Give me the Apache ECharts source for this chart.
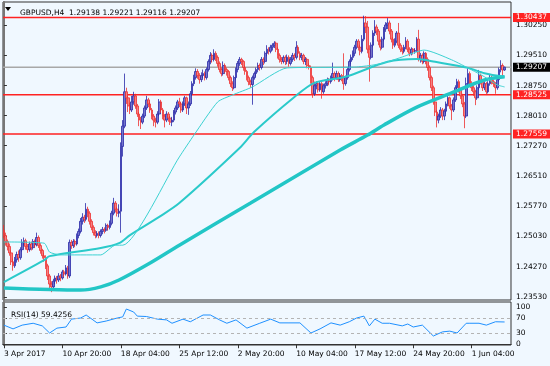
<!DOCTYPE html>
<html>
<head>
<meta charset="utf-8">
<script src="https://cdn.jsdelivr.net/npm/echarts@6/dist/echarts.min.js"></script>
<style>
html,body{margin:0;padding:0;background:#f0f8ff;}
#c{width:550px;height:366px;}
</style>
</head>
<body>
<div id="c"></div>
<script>
// ---- data ----
const symbolTitle = 'GBPUSD,H4  1.29138 1.29221 1.29116 1.29207';
const rsiTitle = 'RSI(14) 59.4256';
const tickBars = [0, 32, 64, 96, 128, 160, 192, 224, 256];
const tickLabels = ['3 Apr 2017', '10 Apr 20:00', '18 Apr 04:00', '25 Apr 12:00', '2 May 20:00', '10 May 04:00', '17 May 12:00', '24 May 20:00', '1 Jun 04:00'];
const priceTicks = [1.23530, 1.24270, 1.25030, 1.25770, 1.26510, 1.27270, 1.28010, 1.28750, 1.29510, 1.30250];
const rsiTicks = [0, 30, 70, 100];
const rsiLevels = [30, 70];
const levels = [1.30437, 1.28525, 1.27559];
const lastPrice = 1.29207;

// [open, close, low, high] per H4 bar
const ohlc = [
[1.2518,1.2505,1.2498,1.2531],[1.2505,1.2490,1.2480,1.2512],[1.2490,1.2478,1.2468,1.2495],[1.2478,1.2462,1.2455,1.2485],
[1.2462,1.2440,1.2432,1.2468],[1.2440,1.2430,1.2418,1.2448],[1.2430,1.2445,1.2425,1.2452],[1.2445,1.2458,1.2438,1.2465],
[1.2458,1.2450,1.2440,1.2468],[1.2450,1.2470,1.2445,1.2476],[1.2470,1.2488,1.2465,1.2496],[1.2488,1.2492,1.2480,1.2500],
[1.2492,1.2478,1.2470,1.2497],[1.2478,1.2470,1.2462,1.2484],[1.2470,1.2484,1.2465,1.2490],[1.2484,1.2475,1.2468,1.2490],
[1.2475,1.2490,1.2470,1.2496],[1.2490,1.2482,1.2475,1.2495],[1.2482,1.2500,1.2478,1.2512],[1.2500,1.2480,1.2474,1.2505],
[1.2480,1.2468,1.2460,1.2486],[1.2468,1.2455,1.2448,1.2472],[1.2455,1.2450,1.2440,1.2462],[1.2450,1.2430,1.2422,1.2456],
[1.2430,1.2405,1.2395,1.2435],[1.2405,1.2385,1.2370,1.2410],[1.2385,1.2378,1.2365,1.2392],[1.2378,1.2392,1.2370,1.2398],
[1.2392,1.2400,1.2385,1.2406],[1.2400,1.2395,1.2386,1.2405],[1.2395,1.2405,1.2390,1.2412],[1.2405,1.2400,1.2392,1.2410],
[1.2400,1.2415,1.2396,1.2420],[1.2415,1.2410,1.2402,1.2420],[1.2410,1.2425,1.2406,1.2432],[1.2425,1.2405,1.2398,1.2430],
[1.2405,1.2488,1.2400,1.2495],[1.2488,1.2480,1.2472,1.2494],[1.2480,1.2490,1.2474,1.2496],[1.2490,1.2484,1.2476,1.2495],
[1.2484,1.2505,1.2480,1.2510],[1.2505,1.2515,1.2498,1.2522],[1.2515,1.2540,1.2510,1.2548],[1.2540,1.2550,1.2532,1.2560],
[1.2550,1.2545,1.2536,1.2556],[1.2545,1.2570,1.2540,1.2585],[1.2570,1.2560,1.2550,1.2576],[1.2560,1.2540,1.2532,1.2565],
[1.2540,1.2525,1.2518,1.2545],[1.2525,1.2512,1.2505,1.2530],[1.2512,1.2505,1.2498,1.2518],[1.2505,1.2510,1.2500,1.2516],
[1.2510,1.2505,1.2498,1.2515],[1.2505,1.2515,1.2500,1.2520],[1.2515,1.2520,1.2508,1.2526],[1.2520,1.2518,1.2510,1.2525],
[1.2518,1.2530,1.2514,1.2535],[1.2530,1.2525,1.2518,1.2534],[1.2525,1.2535,1.2520,1.2542],[1.2535,1.2560,1.2530,1.2566],
[1.2560,1.2585,1.2555,1.2598],[1.2585,1.2570,1.2562,1.2590],[1.2570,1.2560,1.2552,1.2575],[1.2560,1.2565,1.2550,1.2582],
[1.2565,1.2725,1.2512,1.2735],[1.2725,1.2775,1.2700,1.2790],[1.2775,1.2860,1.2770,1.2905],[1.2860,1.2845,1.2830,1.2870],
[1.2845,1.2825,1.2810,1.2850],[1.2825,1.2815,1.2805,1.2832],[1.2815,1.2835,1.2810,1.2850],[1.2835,1.2850,1.2828,1.2860],
[1.2850,1.2825,1.2818,1.2855],[1.2825,1.2805,1.2798,1.2830],[1.2805,1.2790,1.2775,1.2810],[1.2790,1.2785,1.2768,1.2798],
[1.2785,1.2800,1.2780,1.2806],[1.2800,1.2820,1.2795,1.2826],[1.2820,1.2840,1.2815,1.2850],[1.2840,1.2830,1.2822,1.2845],
[1.2830,1.2815,1.2808,1.2836],[1.2815,1.2800,1.2792,1.2820],[1.2800,1.2790,1.2775,1.2805],[1.2790,1.2785,1.2772,1.2796],
[1.2785,1.2805,1.2780,1.2812],[1.2805,1.2835,1.2800,1.2842],[1.2835,1.2815,1.2808,1.2840],[1.2815,1.2800,1.2792,1.2820],
[1.2800,1.2790,1.2772,1.2805],[1.2790,1.2805,1.2785,1.2812],[1.2805,1.2795,1.2786,1.2810],[1.2795,1.2785,1.2778,1.2800],
[1.2785,1.2790,1.2775,1.2798],[1.2790,1.2810,1.2785,1.2815],[1.2810,1.2820,1.2804,1.2826],[1.2820,1.2835,1.2815,1.2840],
[1.2835,1.2830,1.2822,1.2845],[1.2830,1.2815,1.2808,1.2834],[1.2815,1.2830,1.2810,1.2836],[1.2830,1.2845,1.2825,1.2850],
[1.2845,1.2820,1.2805,1.2848],[1.2820,1.2830,1.2803,1.2836],[1.2830,1.2855,1.2825,1.2862],[1.2855,1.2880,1.2850,1.2886],
[1.2880,1.2895,1.2874,1.2902],[1.2895,1.2910,1.2890,1.2918],[1.2910,1.2900,1.2892,1.2916],[1.2900,1.2890,1.2880,1.2906],
[1.2890,1.2900,1.2884,1.2908],[1.2900,1.2905,1.2894,1.2915],[1.2905,1.2895,1.2888,1.2910],[1.2895,1.2915,1.2890,1.2920],
[1.2915,1.2935,1.2910,1.2940],[1.2935,1.2950,1.2928,1.2958],[1.2950,1.2940,1.2932,1.2955],[1.2940,1.2955,1.2935,1.2965],
[1.2955,1.2945,1.2936,1.2960],[1.2945,1.2930,1.2922,1.2950],[1.2930,1.2915,1.2908,1.2935],[1.2915,1.2905,1.2898,1.2920],
[1.2905,1.2925,1.2900,1.2935],[1.2925,1.2915,1.2906,1.2930],[1.2915,1.2910,1.2900,1.2920],[1.2910,1.2895,1.2888,1.2914],
[1.2895,1.2880,1.2872,1.2900],[1.2880,1.2870,1.2862,1.2886],[1.2870,1.2895,1.2866,1.2900],[1.2895,1.2915,1.2890,1.2920],
[1.2915,1.2930,1.2908,1.2936],[1.2930,1.2940,1.2924,1.2946],[1.2940,1.2935,1.2926,1.2944],[1.2935,1.2920,1.2912,1.2938],
[1.2920,1.2910,1.2902,1.2925],[1.2910,1.2895,1.2888,1.2914],[1.2895,1.2885,1.2876,1.2900],[1.2885,1.2878,1.2870,1.2890],
[1.2878,1.2895,1.2828,1.2900],[1.2895,1.2905,1.2890,1.2910],[1.2905,1.2915,1.2898,1.2920],[1.2915,1.2925,1.2908,1.2932],
[1.2925,1.2920,1.2912,1.2930],[1.2920,1.2940,1.2915,1.2946],[1.2940,1.2935,1.2926,1.2945],[1.2935,1.2955,1.2930,1.2960],
[1.2955,1.2965,1.2948,1.2975],[1.2965,1.2960,1.2952,1.2970],[1.2960,1.2970,1.2955,1.2976],[1.2970,1.2975,1.2962,1.2980],
[1.2975,1.2980,1.2968,1.2985],[1.2980,1.2965,1.2958,1.2984],[1.2965,1.2950,1.2942,1.2970],[1.2950,1.2940,1.2932,1.2955],
[1.2940,1.2935,1.2928,1.2946],[1.2935,1.2945,1.2930,1.2950],[1.2945,1.2935,1.2926,1.2950],[1.2935,1.2945,1.2928,1.2952],
[1.2945,1.2930,1.2922,1.2950],[1.2930,1.2940,1.2925,1.2946],[1.2940,1.2950,1.2934,1.2956],[1.2950,1.2945,1.2936,1.2955],
[1.2945,1.2970,1.2940,1.2985],[1.2970,1.2955,1.2948,1.2975],[1.2955,1.2945,1.2938,1.2960],[1.2945,1.2950,1.2938,1.2956],
[1.2950,1.2935,1.2928,1.2954],[1.2935,1.2940,1.2926,1.2946],[1.2940,1.2925,1.2918,1.2944],[1.2925,1.2920,1.2915,1.2930],
[1.2920,1.2895,1.2880,1.2925],[1.2895,1.2855,1.2845,1.2900],[1.2855,1.2875,1.2850,1.2885],[1.2875,1.2880,1.2866,1.2886],
[1.2880,1.2865,1.2858,1.2884],[1.2865,1.2880,1.2860,1.2886],[1.2880,1.2860,1.2843,1.2884],[1.2860,1.2875,1.2855,1.2880],
[1.2875,1.2880,1.2868,1.2886],[1.2880,1.2890,1.2874,1.2895],[1.2890,1.2885,1.2876,1.2894],[1.2885,1.2895,1.2880,1.2900],
[1.2895,1.2905,1.2888,1.2932],[1.2905,1.2895,1.2886,1.2910],[1.2895,1.2905,1.2890,1.2912],[1.2905,1.2890,1.2884,1.2910],
[1.2890,1.2900,1.2885,1.2906],[1.2900,1.2895,1.2886,1.2904],[1.2895,1.2880,1.2865,1.2955],[1.2880,1.2895,1.2875,1.2900],
[1.2895,1.2915,1.2890,1.2920],[1.2915,1.2935,1.2910,1.2940],[1.2935,1.2945,1.2928,1.2952],[1.2945,1.2955,1.2938,1.2962],
[1.2955,1.2970,1.2948,1.2976],[1.2970,1.2985,1.2965,1.2990],[1.2985,1.2970,1.2962,1.2990],[1.2970,1.2960,1.2950,1.2976],
[1.2960,1.2990,1.2955,1.3000],[1.2990,1.3030,1.2985,1.3048],[1.3030,1.3020,1.3005,1.3047],[1.3020,1.2965,1.2955,1.3035],
[1.2965,1.2945,1.2885,1.2975],[1.2945,1.2975,1.2940,1.2982],[1.2975,1.3005,1.2970,1.3012],[1.3005,1.3020,1.2998,1.3037],
[1.3020,1.3010,1.3000,1.3026],[1.3010,1.2985,1.2975,1.3015],[1.2985,1.2970,1.2962,1.2990],[1.2970,1.2990,1.2965,1.2996],
[1.2990,1.3015,1.2985,1.3020],[1.3015,1.3025,1.3008,1.3032],[1.3025,1.3030,1.3015,1.3042],[1.3030,1.3010,1.3002,1.3036],
[1.3010,1.2990,1.2982,1.3015],[1.2990,1.2975,1.2966,1.2995],[1.2975,1.2985,1.2970,1.2992],[1.2985,1.3005,1.2980,1.3010],
[1.3005,1.2975,1.2968,1.3030],[1.2975,1.2965,1.2958,1.2980],[1.2965,1.2960,1.2952,1.2970],[1.2960,1.2970,1.2955,1.2976],
[1.2970,1.2985,1.2965,1.2995],[1.2985,1.2965,1.2958,1.2990],[1.2965,1.2955,1.2948,1.2970],[1.2955,1.2965,1.2950,1.2970],
[1.2965,1.2960,1.2952,1.2968],[1.2960,1.2962,1.2954,1.2968],[1.2962,1.2990,1.2958,1.2995],[1.2990,1.2940,1.2935,1.3013],
[1.2940,1.2950,1.2932,1.2956],[1.2950,1.2935,1.2928,1.2955],[1.2935,1.2955,1.2930,1.2960],[1.2955,1.2940,1.2928,1.2958],
[1.2940,1.2920,1.2912,1.2945],[1.2920,1.2895,1.2888,1.2925],[1.2895,1.2870,1.2862,1.2900],[1.2870,1.2835,1.2828,1.2875],
[1.2835,1.2810,1.2800,1.2840],[1.2810,1.2790,1.2772,1.2815],[1.2790,1.2800,1.2782,1.2806],[1.2800,1.2815,1.2795,1.2822],
[1.2815,1.2800,1.2790,1.2820],[1.2800,1.2812,1.2790,1.2818],[1.2812,1.2830,1.2806,1.2836],[1.2830,1.2845,1.2824,1.2850],
[1.2845,1.2825,1.2818,1.2848],[1.2825,1.2815,1.2790,1.2830],[1.2815,1.2840,1.2810,1.2846],[1.2840,1.2870,1.2835,1.2876],
[1.2870,1.2885,1.2864,1.2892],[1.2885,1.2865,1.2858,1.2890],[1.2865,1.2850,1.2842,1.2870],[1.2850,1.2830,1.2822,1.2855],
[1.2830,1.2800,1.2770,1.2835],[1.2800,1.2880,1.2795,1.2895],[1.2880,1.2905,1.2875,1.2918],[1.2905,1.2880,1.2872,1.2910],
[1.2880,1.2870,1.2862,1.2886],[1.2870,1.2860,1.2850,1.2876],[1.2860,1.2845,1.2827,1.2865],[1.2845,1.2870,1.2840,1.2876],
[1.2870,1.2900,1.2865,1.2914],[1.2900,1.2885,1.2878,1.2905],[1.2885,1.2870,1.2862,1.2890],[1.2870,1.2880,1.2864,1.2886],
[1.2880,1.2860,1.2852,1.2884],[1.2860,1.2880,1.2856,1.2886],[1.2880,1.2895,1.2875,1.2902],[1.2895,1.2885,1.2878,1.2900],
[1.2885,1.2880,1.2872,1.2890],[1.2880,1.2870,1.2855,1.2884],[1.2870,1.2890,1.2865,1.2895],[1.2890,1.2915,1.2885,1.2920],
[1.2915,1.2925,1.2908,1.2938],[1.2925,1.29138,1.2895,1.2930],[1.29138,1.29207,1.29116,1.29221]
];

// moving averages: [bar index, price] read at points along each line
const maFast = [[0,1.2489],[22,1.2486],[25,1.2464],[31,1.2457],[53,1.2457],[61,1.2481],[65,1.2481],[96,1.2699],[104,1.2753],[117,1.2835],[125,1.2852],[136,1.2872],[155,1.2919],[192,1.2921],[202,1.2926],[210,1.2934],[218,1.2946],[230,1.2963],[245,1.2939],[256,1.2914],[263,1.2897],[270,1.2877],[274,1.2872]];
const maMid = [[0,1.2390],[22,1.2444],[25,1.2454],[53,1.2474],[63,1.2486],[69,1.2506],[85,1.2551],[96,1.2585],[129,1.2721],[137,1.2761],[159,1.2847],[170,1.2882],[187,1.2897],[210,1.2934],[226,1.2941],[236,1.2934],[254,1.2919],[263,1.2906],[274,1.2897]];
const maSlow = [[0,1.2375],[42,1.2370],[53,1.2378],[63,1.2395],[80,1.2437],[96,1.2481],[135,1.2585],[184,1.2716],[199,1.2753],[208,1.2778],[226,1.2822],[245,1.2857],[263,1.2889],[274,1.2897]];

// RSI(14): [bar index, value]
const rsi = [[0,51],[5,41],[10,51],[16,56],[21,49],[25,30],[29,43],[34,46],[37,67],[42,70],[45,78],[51,57],[56,62],[62,70],[65,73],[67,94],[71,86],[73,75],[78,74],[84,67],[89,65],[92,56],[98,67],[102,60],[109,78],[113,78],[118,65],[122,56],[127,65],[133,43],[140,56],[146,67],[151,57],[156,57],[162,57],[168,30],[173,41],[179,57],[184,51],[189,60],[193,70],[194,67],[197,75],[200,49],[203,67],[207,56],[211,56],[218,49],[221,54],[224,46],[229,51],[235,22],[240,33],[244,35],[248,30],[253,56],[255,56],[260,56],[264,51],[269,60],[274,59.4256]];

// ---- chart ----
const SLOTS = 278;
const slots = [];
for (let i = 0; i < SLOTS; i++) slots.push(i);
const FONT = 'DejaVu Sans';
const FS = 7.5;

function levelSeries(v, lineColor, tagColor) {
  return {
    type: 'line', xAxisIndex: 1, yAxisIndex: 0, z: 1, silent: true,
    data: [[-0.5, v], [SLOTS - 0.5, v]], showSymbol: false,
    lineStyle: { color: lineColor, width: 1.5 },
    endLabel: { show: true, distance: 2, formatter: () => v.toFixed(5),
      backgroundColor: tagColor, color: '#fff', fontFamily: FONT, fontSize: FS, padding: [1, 3, 0, 3] }
  };
}

const chart = echarts.init(document.getElementById('c'), null, { renderer: 'canvas' });
chart.setOption({
  animation: false,
  backgroundColor: '#f0f8ff',
  textStyle: { fontFamily: FONT },
  title: [
    { text: symbolTitle, left: 15, top: 4, textStyle: { fontFamily: FONT, fontSize: FS, fontWeight: 'normal', color: '#000' } },
    { text: rsiTitle, left: 6, top: 306, textStyle: { fontFamily: FONT, fontSize: FS, fontWeight: 'normal', color: '#000' } }
  ],
  graphic: [
    { type: 'polygon', shape: { points: [[5, 7], [11, 7], [8, 11]] }, style: { fill: '#000' } }
  ],
  grid: [
    { left: 3, right: 39, top: 2, height: 298, show: true, borderColor: '#333', borderWidth: 1, backgroundColor: 'transparent' },
    { left: 3, right: 39, top: 302, height: 43, show: true, borderColor: '#333', borderWidth: 1, backgroundColor: 'transparent' }
  ],
  xAxis: [
    { type: 'category', gridIndex: 0, data: slots, boundaryGap: true, show: false },
    { type: 'value', gridIndex: 0, min: -0.5, max: SLOTS - 0.5, show: false },
    { type: 'value', gridIndex: 1, min: -0.5, max: SLOTS - 0.5, position: 'bottom',
      axisLine: { show: true, lineStyle: { color: '#333', width: 1 } },
      axisTick: { show: true, customValues: tickBars, length: 4, lineStyle: { color: '#333' } },
      axisLabel: { show: true, customValues: tickBars, align: 'left', margin: 5, fontFamily: FONT, fontSize: FS, color: '#000',
        formatter: v => tickLabels[tickBars.indexOf(Math.round(v))] || '' },
      splitLine: { show: false } }
  ],
  yAxis: [
    { type: 'value', gridIndex: 0, position: 'right', min: 1.23456, max: 1.30818,
      axisLine: { show: true, lineStyle: { color: '#777', width: 2 } },
      axisTick: { show: true, customValues: priceTicks, length: 3, lineStyle: { color: '#333' } },
      axisLabel: { show: true, customValues: priceTicks, margin: 5, fontFamily: FONT, fontSize: FS, color: '#000',
        formatter: v => v.toFixed(5) },
      splitLine: { show: false } },
    { type: 'value', gridIndex: 1, position: 'right', min: -2, max: 112.7,
      axisLine: { show: true, lineStyle: { color: '#777', width: 2 } },
      axisTick: { show: true, customValues: rsiTicks, length: 3, lineStyle: { color: '#333' } },
      axisLabel: { show: true, customValues: rsiTicks, margin: 5, fontFamily: FONT, fontSize: FS, color: '#000',
        formatter: v => String(Math.round(v)) },
      splitLine: { show: false } }
  ],
  series: [
    levelSeries(levels[0], '#f22', '#f22'),
    levelSeries(levels[1], '#f22', '#f22'),
    levelSeries(levels[2], '#f22', '#f22'),
    levelSeries(lastPrice, '#a8a8a8', '#000'),
    { type: 'candlestick', xAxisIndex: 0, yAxisIndex: 0, data: ohlc, barWidth: 2.2, z: 2,
      itemStyle: { color: '#7474cc', color0: '#f58080', borderColor: '#2a2aa8', borderColor0: '#ee3030', borderWidth: 0.8 } },
    { type: 'line', xAxisIndex: 1, yAxisIndex: 0, data: maSlow, showSymbol: false, smooth: 0.3, z: 3,
      lineStyle: { color: '#22c6c6', width: 3.5 } },
    { type: 'line', xAxisIndex: 1, yAxisIndex: 0, data: maMid, showSymbol: false, smooth: 0.3, z: 3,
      lineStyle: { color: '#2acaca', width: 2 } },
    { type: 'line', xAxisIndex: 1, yAxisIndex: 0, data: maFast, showSymbol: false, smooth: 0.2, z: 3,
      lineStyle: { color: '#3cd2d2', width: 1 } },
    { type: 'line', xAxisIndex: 2, yAxisIndex: 1, data: rsi, showSymbol: false, z: 3,
      lineStyle: { color: '#1e90ff', width: 1 },
      markLine: { silent: true, symbol: ['none', 'none'], label: { show: false },
        lineStyle: { color: '#b4b4b4', type: [3, 3], width: 1 },
        data: rsiLevels.map(v => ({ yAxis: v })) } }
  ]
});
</script>
</body>
</html>
